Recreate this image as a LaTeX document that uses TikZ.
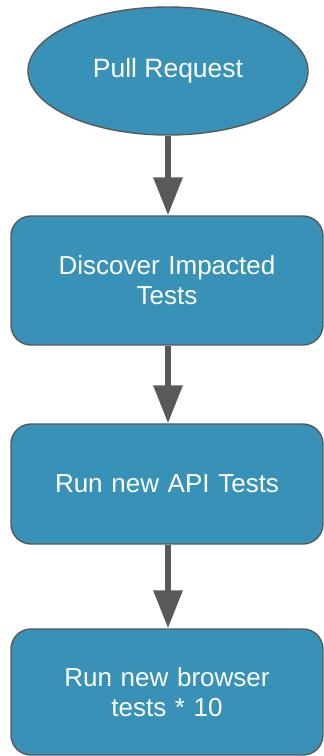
\documentclass[tikz,border=0pt]{standalone}
\usepackage{fontspec}
\setmainfont{Liberation Sans}
\usetikzlibrary{arrows.meta,positioning,shapes.geometric}

\definecolor{stepblue}{RGB}{56,146,184}
\definecolor{edgegray}{RGB}{89,89,89}

\begin{document}
\begin{tikzpicture}[
      x=1pt, y=1pt,
      >={Triangle[width=28pt,length=38pt]},
      start/.style={ellipse, draw=edgegray, line width=1.4pt, fill=stepblue, text=white,
                    minimum width=280pt, minimum height=128pt,
                    font=\fontsize{26.5pt}{30pt}\selectfont},
      task/.style={draw=edgegray, line width=1.4pt, fill=stepblue, text=white, rounded corners=20pt,
                   align=center, minimum width=312pt, text width=290pt,
                   font=\fontsize{26pt}{30pt}\selectfont},
      flow/.style={->, draw=edgegray, line width=6.5pt}
    ]
    \useasboundingbox (0,0) rectangle (324,-756);

    \node[start] (pr) at (168,-71) {Pull Request};
    \node[task, minimum height=129pt] (discover) at (167,-280.5) {Discover Impacted\\Tests};
    \node[task, minimum height=120pt] (api) at (167,-484) {Run new API Tests};
    \node[task, minimum height=126pt] (browser) at (167,-692) {Run new browser\\tests * 10};

    \draw[flow] (pr.south -| 168,0) -- (discover.north -| 168,0);
    \draw[flow] (discover.south -| 168,0) -- (api.north -| 168,0);
    \draw[flow] (api.south -| 168,0) -- (browser.north -| 168,0);
  \end{tikzpicture}
\end{document}
